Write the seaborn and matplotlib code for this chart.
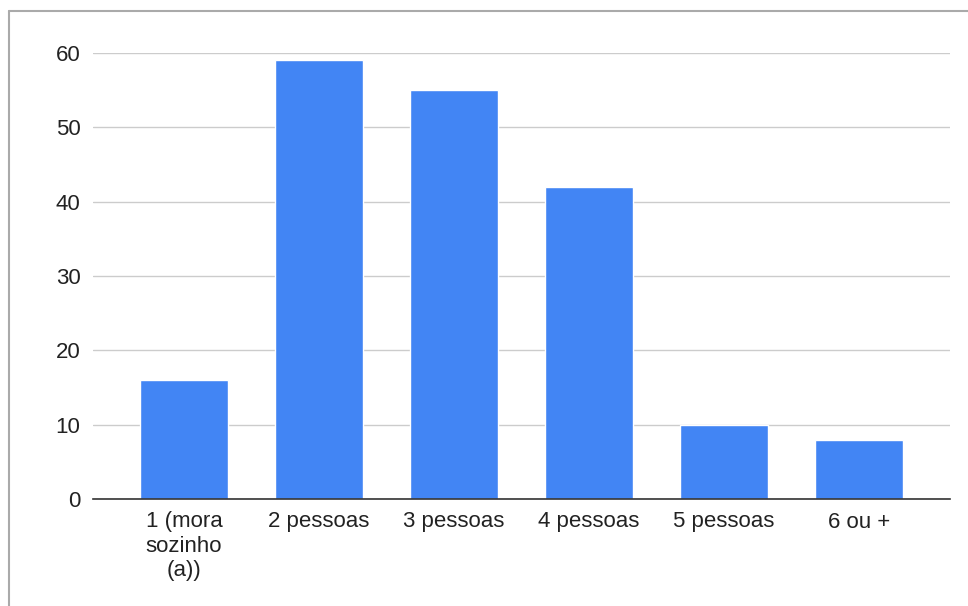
import matplotlib
matplotlib.use('Agg')
import matplotlib.pyplot as plt
import pandas as pd
import seaborn as sns

categories = ['1 (mora\nsozinho\n(a))', '2 pessoas', '3 pessoas', '4 pessoas', '5 pessoas', '6 ou +']
counts = [16, 59, 55, 42, 10, 8]
yticks = [0, 10, 20, 30, 40, 50, 60]

df = pd.DataFrame({'categoria': categories, 'n': counts})

sns.set_style('white')
plt.rcParams['font.family'] = ['Liberation Sans', 'DejaVu Sans']

W, H = 968, 606
fig = plt.figure(figsize=(W / 100, H / 100), dpi=100)
ax = fig.add_axes([93 / W, 1 - 499 / H, (950 - 93) / W, (499 - 53) / H])

sns.barplot(data=df, x='categoria', y='n', color='#4285f4', saturation=1,
            width=0.65, ax=ax, zorder=3)

ax.set_ylim(0, 60)
ax.set_xlim(-0.674, 5.674)
ax.set_yticks(yticks)
ax.grid(axis='y', color='#cccccc', linewidth=1, zorder=0)
ax.set_xlabel('')
ax.set_ylabel('')
for s in ['top', 'right', 'left']:
    ax.spines[s].set_visible(False)
ax.spines['bottom'].set_color('#333333')
ax.spines['bottom'].set_linewidth(1.2)
ax.spines['bottom'].set_zorder(4)
ax.tick_params(axis='both', length=0, labelsize=16, colors='#222222')
ax.tick_params(axis='y', pad=9)
ax.tick_params(axis='x', pad=9)
for lbl in ax.get_xticklabels():
    lbl.set_linespacing(1.2)

# outer chart frame (top and left edges visible in the reference)
fig.add_artist(plt.Line2D([9 / W, 1], [1 - 11 / H, 1 - 11 / H], color='#aaaaaa', linewidth=1.5))
fig.add_artist(plt.Line2D([9 / W, 9 / W], [0, 1 - 11 / H], color='#aaaaaa', linewidth=1.5))

fig.savefig('out.png', dpi=100)
